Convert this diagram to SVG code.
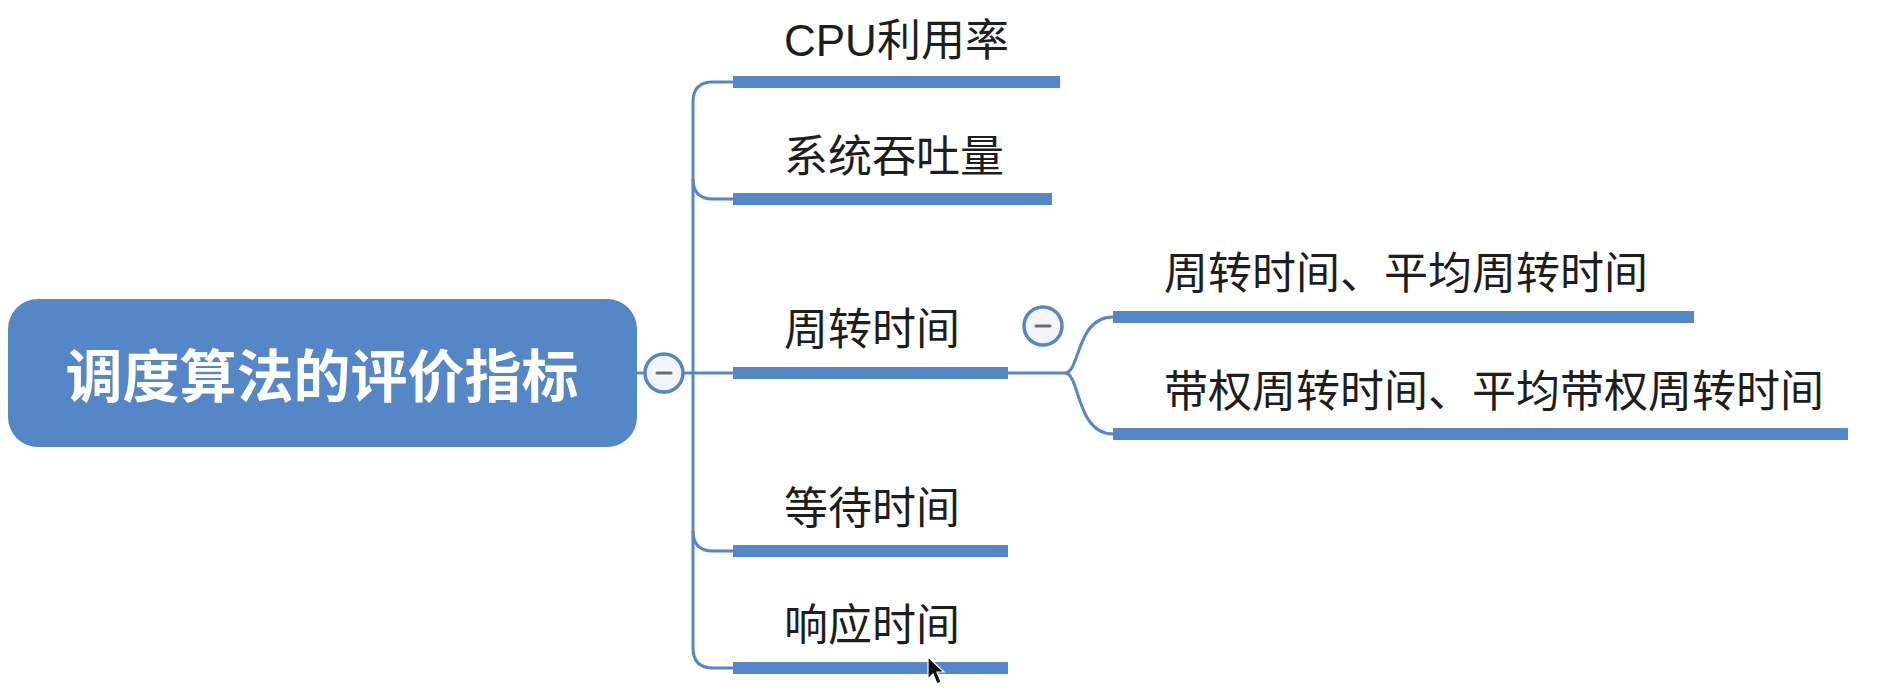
<svg xmlns="http://www.w3.org/2000/svg" width="1895" height="691" viewBox="0 0 1895 691">
<style>
.bar{fill:#5586c7}
.ln{fill:none;stroke:#5586c7;stroke-width:3}
.tx{font-family:"Liberation Sans","Noto Sans CJK SC",sans-serif;font-size:44px;fill:#1e1e1e}
.root{font-family:"Noto Sans CJK SC",sans-serif;font-size:57px;font-weight:bold;fill:#ffffff}
.tog{fill:#f3f5fa;stroke:#5586c7;stroke-width:3.5}
.minus{stroke:#6a6a7a;stroke-width:3;stroke-linecap:round}
</style>
<rect width="1895" height="691" fill="#ffffff"/>
<g id="connectors">
<path class="ln" d="M637,373 H644 M684,373 H733"/>
<path class="ln" d="M733,82 H713 Q693,82 693,102 V648 Q693,668 713,668 H733"/>
<path class="ln" d="M693,179 Q693,199 713,199 H733"/>
<path class="ln" d="M693,531 Q693,551 713,551 H733"/>
<path class="ln" d="M1008,373 H1065 C1080,373 1076,317 1113,317"/>
<path class="ln" d="M1065,373 C1080,373 1076,434 1113,434"/>
</g>
<g id="root">
<rect x="8" y="299" width="629" height="148" rx="30" ry="30" fill="#5586c7"/>
<text class="root" x="322" y="397" text-anchor="middle">调度算法的评价指标</text>
</g>
<g id="root-toggle">
<circle class="tog" cx="664" cy="373" r="19"/>
<line class="minus" x1="657" y1="373" x2="671" y2="373"/>
</g>
<g id="n-cpu">
<rect class="bar" x="733" y="76" width="327" height="12"/>
<text class="tx" x="784" y="56">CPU利用率</text>
</g>
<g id="n-throughput">
<rect class="bar" x="733" y="193" width="319" height="12"/>
<text class="tx" x="784" y="172">系统吞吐量</text>
</g>
<g id="n-turnaround">
<rect class="bar" x="733" y="367" width="275" height="12"/>
<text class="tx" x="784" y="345">周转时间</text>
</g>
<g id="turnaround-toggle">
<circle class="tog" cx="1043" cy="326" r="19"/>
<line class="minus" x1="1036" y1="326" x2="1050" y2="326"/>
</g>
<g id="n-avg-turnaround">
<rect class="bar" x="1113" y="311" width="581" height="12"/>
<text class="tx" x="1164" y="289">周转时间、平均周转时间</text>
</g>
<g id="n-weighted">
<rect class="bar" x="1113" y="428" width="735" height="12"/>
<text class="tx" x="1164" y="407">带权周转时间、平均带权周转时间</text>
</g>
<g id="n-wait">
<rect class="bar" x="733" y="545" width="275" height="12"/>
<text class="tx" x="784" y="524">等待时间</text>
</g>
<g id="n-response">
<rect class="bar" x="733" y="662" width="275" height="12"/>
<text class="tx" x="784" y="641">响应时间</text>
</g>
<path d="M928,657 L928,679 L933,674 L937,684 L941,682 L937,672 L944,672 Z" fill="#111" stroke="#fff" stroke-width="1.2"/>
</svg>
